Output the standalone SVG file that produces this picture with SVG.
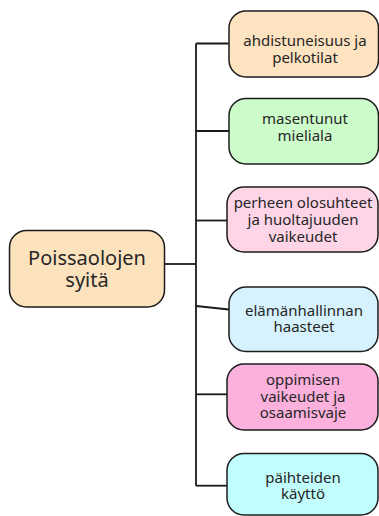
<svg xmlns="http://www.w3.org/2000/svg" width="379" height="516" viewBox="0 0 379 516">
<style>
.box{stroke:#1c1c1c;stroke-width:1.5}
.t{font-family:"Noto Sans","Liberation Sans",sans-serif;font-size:15px;fill:#262626;text-anchor:middle}
.tm{font-family:"Noto Sans","Liberation Sans",sans-serif;font-size:20px;fill:#262626;text-anchor:middle}
.c{stroke:#1a1a1a;stroke-width:1.8;fill:none}
</style>
<rect width="379" height="516" fill="#ffffff"/>
<g id="connectors">
<path class="c" d="M196 43.5 V485.7"/>
<path class="c" d="M164 264 H196"/>
<path class="c" d="M196 43.5 H229"/>
<path class="c" d="M196 131 H229"/>
<path class="c" d="M196 220.5 H227"/>
<path class="c" d="M196 306 L229 309.5"/>
<path class="c" d="M196 394.3 H227"/>
<path class="c" d="M196 485.7 H227"/>
</g>
<g id="main">
<rect class="box" x="9.5" y="230.5" width="155" height="76.5" rx="17" fill="#fde3bd"/>
<text class="tm" x="87" y="264.5">Poissaolojen</text>
<text class="tm" x="87" y="286.5">syitä</text>
</g>
<g id="n1">
<rect class="box" x="229" y="11" width="149.5" height="66" rx="17" fill="#fde3c0"/>
<text class="t" x="305" y="45.5">ahdistuneisuus ja</text>
<text class="t" x="305" y="63">pelkotilat</text>
</g>
<g id="n2">
<rect class="box" x="229" y="98.5" width="149.5" height="65.5" rx="17" fill="#cdfccb"/>
<text class="t" x="305" y="124">masentunut</text>
<text class="t" x="305" y="141">mieliala</text>
</g>
<g id="n3">
<rect class="box" x="227" y="187" width="151" height="65" rx="17" fill="#fdd5e7"/>
<text class="t" x="303" y="207.5">perheen olosuhteet</text>
<text class="t" x="303" y="224.5">ja huoltajuuden</text>
<text class="t" x="303" y="241.5">vaikeudet</text>
</g>
<g id="n4">
<rect class="box" x="229" y="287" width="149" height="64.5" rx="17" fill="#d5f2fd"/>
<text class="t" x="304" y="315.5">elämänhallinnan</text>
<text class="t" x="304" y="332">haasteet</text>
</g>
<g id="n5">
<rect class="box" x="227" y="364" width="151" height="66" rx="17" fill="#fbb1dc"/>
<text class="t" x="303" y="385">oppimisen</text>
<text class="t" x="303" y="401.5">vaikeudet ja</text>
<text class="t" x="303" y="418">osaamisvaje</text>
</g>
<g id="n6">
<rect class="box" x="227" y="453.5" width="151" height="61.5" rx="17" fill="#c2fdfd"/>
<text class="t" x="303" y="482.5">päihteiden</text>
<text class="t" x="303" y="498.5">käyttö</text>
</g>
</svg>
